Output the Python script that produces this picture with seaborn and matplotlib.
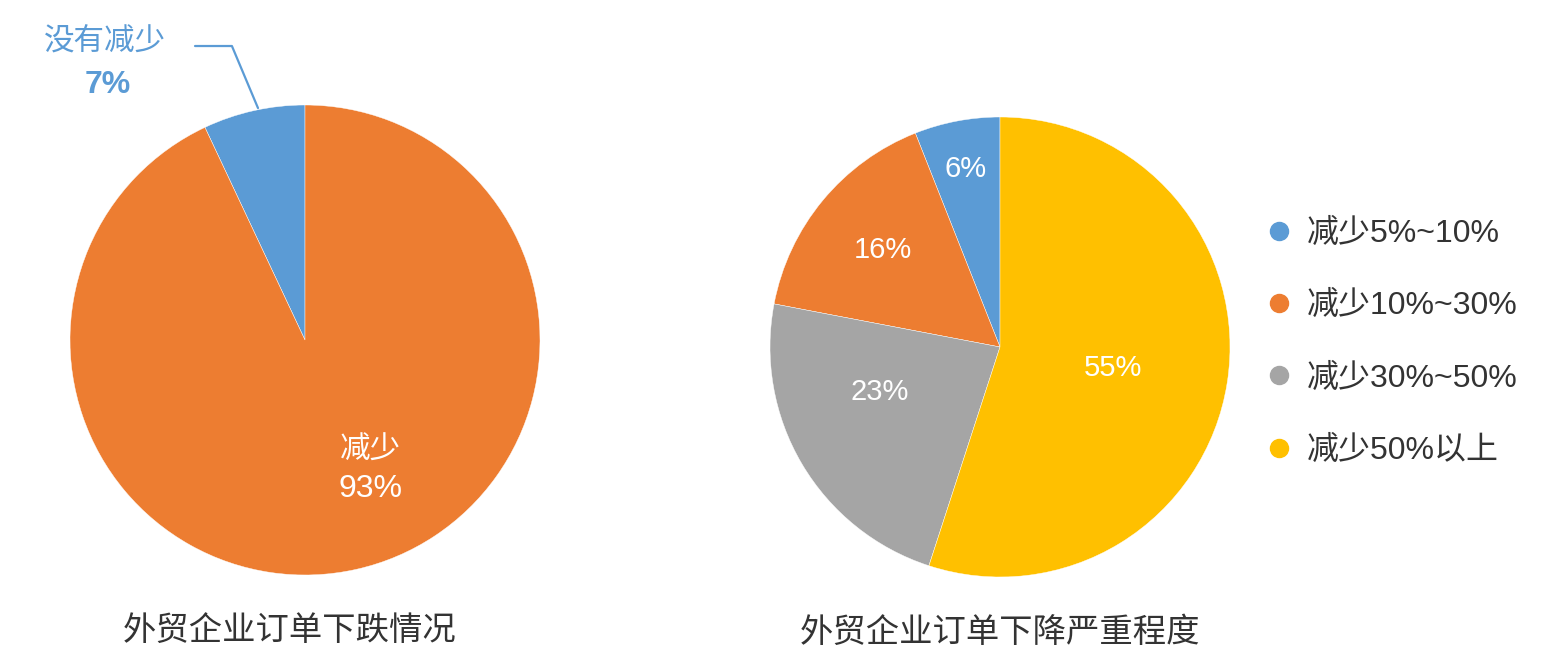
import numpy as np
import matplotlib
matplotlib.use("Agg")
import matplotlib.pyplot as plt
from matplotlib.lines import Line2D
import seaborn as sns

# =================================================================
# 1. Data
# =================================================================
left_labels = ["没有减少", "减少"]
left_values = [7, 93]

right_labels = ["减少5%~10%", "减少10%~30%", "减少30%~50%", "减少50%以上"]
right_values = [6, 16, 23, 55]

left_title = "外贸企业订单下跌情况"
right_title = "外贸企业订单下降严重程度"

colors = ["#5B9BD5", "#ED7D31", "#A5A5A5", "#FFC000"]

# =================================================================
# 2. Style
# =================================================================
sns.set_theme(style="white")
plt.rcParams["font.family"] = ["Noto Sans CJK SC", "DejaVu Sans"]
NUM_FONT = ["Liberation Sans", "Noto Sans CJK SC"]

fig = plt.figure(figsize=(15.49, 6.70), dpi=100)
W, H = 1549, 670

def add_pie_axes(cx, cy, r):
    return fig.add_axes([(cx - r) / W, (H - cy - r) / H, 2 * r / W, 2 * r / H])

# =================================================================
# 3. Left pie
# =================================================================
ax1 = add_pie_axes(305, 340, 235)
wedges1, _ = ax1.pie(left_values, colors=colors[:2], startangle=90,
                     counterclock=True, radius=1,
                     wedgeprops=dict(edgecolor="white", linewidth=0.3))
ax1.set_xlim(-1, 1)
ax1.set_ylim(-1, 1)
ax1.set_aspect("equal")

# inside label for the big slice
ax1.text(0.28, -0.47, left_labels[1], color="white", fontsize=22,
         ha="center", va="center")
ax1.text(0.28, -0.635, f"{left_values[1]}%", color="white", fontsize=23,
         ha="center", va="center", family=NUM_FONT)

# outside label with leader line for the small slice
ax1.plot([-0.20, -0.311, -0.468], [0.987, 1.251, 1.251], color=colors[0],
         lw=1.6, clip_on=False)
ax1.text(-0.85, 1.27, left_labels[0], color=colors[0], fontsize=22,
         ha="center", va="center")
ax1.text(-0.838, 1.085, f"{left_values[0]}%", color=colors[0], fontsize=23,
         ha="center", va="center", fontweight="bold", family=NUM_FONT)

fig.text(290 / W, 1 - 630 / H, left_title, fontsize=24, color="#333333",
         ha="center", va="center")

# =================================================================
# 4. Right pie
# =================================================================
ax2 = add_pie_axes(1000, 347, 230)
wedges2, _ = ax2.pie(right_values, colors=colors, startangle=90,
                     counterclock=True, radius=1,
                     wedgeprops=dict(edgecolor="white", linewidth=0.3))
ax2.set_xlim(-1, 1)
ax2.set_ylim(-1, 1)
ax2.set_aspect("equal")

label_r = [0.79, 0.66, 0.56, 0.5]
label_shift = [0, 0, -10, -1.5]
for w, v, r, s in zip(wedges2, right_values, label_r, label_shift):
    theta = np.deg2rad((w.theta1 + w.theta2) / 2 + s)
    ax2.text(r * np.cos(theta), r * np.sin(theta), f"{v}%", color="white",
             fontsize=21, ha="center", va="center", family=NUM_FONT)

fig.text(1000 / W, 1 - 632 / H, right_title, fontsize=24, color="#333333",
         ha="center", va="center")

handles = [Line2D([], [], marker="o", linestyle="", markersize=13,
                  markerfacecolor=c, markeredgecolor=c) for c in colors]
fig.legend(handles, right_labels, loc="upper left",
           bbox_to_anchor=(1232 / W, 1 - 190 / H), frameon=False,
           prop=dict(family=NUM_FONT, size=23), labelspacing=1.32,
           handletextpad=0.3, handlelength=1.15, labelcolor="#333333")

plt.savefig("out.png", dpi=100)
